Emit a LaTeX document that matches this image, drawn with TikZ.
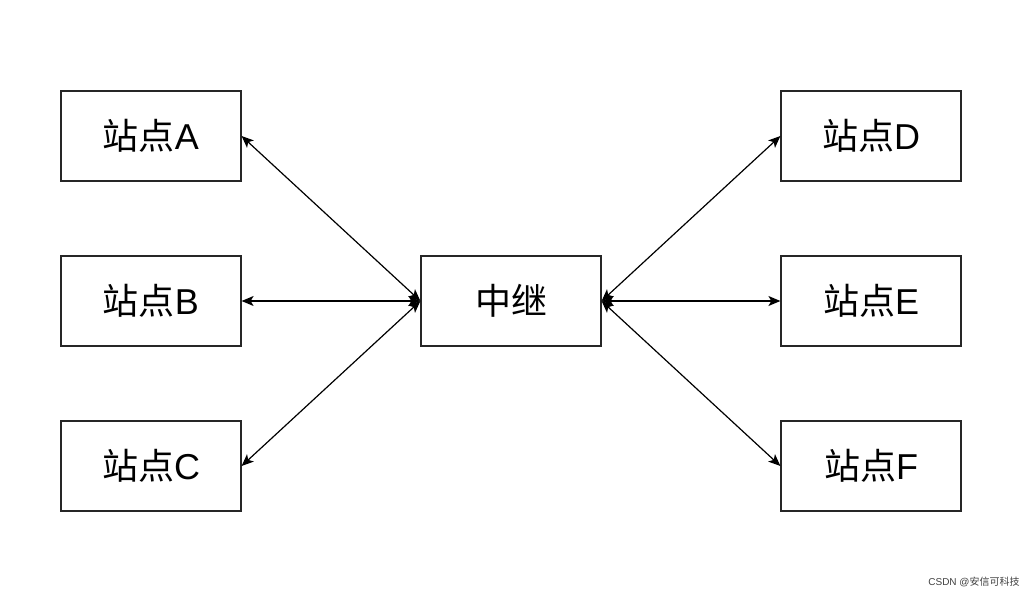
\documentclass[tikz,border=0pt]{standalone}
\usepackage{fontspec}
\setmainfont{Liberation Sans}
\newfontfamily\cjk{Noto Sans CJK SC}
\usetikzlibrary{arrows.meta}
\begin{document}
\begin{tikzpicture}[x=1pt,y=-1pt,
  box/.style={draw=black!85,line width=1.2pt,minimum width=180pt,minimum height=90pt,inner sep=0pt,font=\fontsize{36}{40}\selectfont},
  tip/.tip={Stealth[length=12pt,width=10pt,inset=3pt]},
  link/.style={line width=1.2pt,tip-tip}]
\useasboundingbox (0,0) rectangle (1028,597);
\node[box] (A) at (151,136) {{\cjk 站点}A};
\node[box] (B) at (151,301) {{\cjk 站点}B};
\node[box] (C) at (151,466) {{\cjk 站点}C};
\node[box] (R) at (511,301) {{\cjk 中继}};
\node[box] (D) at (871,136) {{\cjk 站点}D};
\node[box] (E) at (871,301) {{\cjk 站点}E};
\node[box] (F) at (871,466) {{\cjk 站点}F};
\draw[link] (A.east) -- (R.west);
\draw[link] (B.east) -- (R.west);
\draw[link] (C.east) -- (R.west);
\draw[link] (R.east) -- (D.west);
\draw[link] (R.east) -- (E.west);
\draw[link] (R.east) -- (F.west);
\node[text=black!75,font=\fontsize{10}{12}\selectfont] (wm) at (974,582) {CSDN @{\cjk 安信可科技}};
\end{tikzpicture}
\end{document}
